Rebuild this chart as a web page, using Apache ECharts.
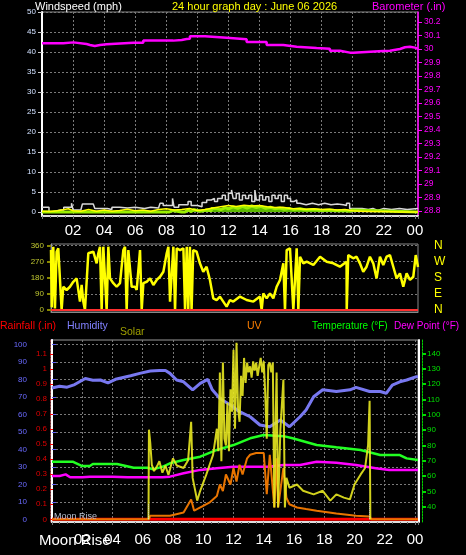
<!DOCTYPE html>
<html><head><meta charset="utf-8">
<script src="https://cdn.jsdelivr.net/npm/echarts@6/dist/echarts.min.js"></script>
<style>html,body{margin:0;padding:0;background:#000;}#c{width:466px;height:555px;}</style>
</head><body><div id="c"></div>
<script>
// ---------- tick labels ----------
const windTicks = [0,5,10,15,20,25,30,35,40,45,50];
const baroTicks = [28.8,28.9,29,29.1,29.2,29.3,29.4,29.5,29.6,29.7,29.8,29.9,30,30.1,30.2];
const dirTicks = [0,90,180,270,360];
const dirNames = ['N','E','S','W','N'];
const humTicks = [0,10,20,30,40,50,60,70,80,90,100];
const rainTicks = [0,0.1,0.2,0.3,0.4,0.5,0.6,0.7,0.8,0.9,1,1.1,1.2];
const tempTicks = [40,50,60,70,80,90,100,110,120,130,140];
const sunTimes = [6.35, 21.0];

// ---------- data: [hour, value] ----------
const windGust = [[0,1.2],[0.3,1.2],[0.45,0],[0.6,0.5],[1.2,0.5],[1.4,1.2],[1.9,2.2],[2.0,0.5],[2.5,0.5],[2.6,2.0],[3.3,2.0],[3.4,0.9],[4.0,0.9],[4.2,0.6],[4.5,1.2],[5.0,1.0],[5.5,1.2],[6.0,0.9],[6.6,1.2],[7.0,1.0],[7.5,1.2],[7.6,2.2],[7.8,1.6],[8.2,1.6],[8.4,3.4],[8.5,1.2],[8.8,1.8],[9.2,1.8],[9.4,2.6],[9.6,1.6],[10.0,1.3],[10.3,2.4],[10.6,3.0],[10.9,3.4],[11.1,2.6],[11.3,3.4],[11.6,4.2],[11.8,3.0],[12.0,4.7],[12.2,5.5],[12.3,3.4],[12.5,4.6],[12.7,3.0],[12.9,4.2],[13.1,3.4],[13.3,4.2],[13.5,2.6],[13.7,5.5],[13.8,3.0],[14.0,4.2],[14.2,3.0],[14.4,3.8],[14.6,2.6],[14.8,4.2],[15.0,3.4],[15.2,4.2],[15.4,2.6],[15.6,4.2],[15.8,3.4],[16.0,2.6],[16.2,3.0],[16.4,2.2],[16.6,1.8],[17.0,2.2],[17.4,1.8],[17.8,2.2],[18.2,1.8],[18.6,2.0],[19.0,1.8],[19.4,1.6],[19.6,2.2],[19.8,0.9],[20.2,0.9],[20.6,0.6],[21.0,0.9],[21.3,0.4],[21.6,0.9],[22.0,0.6],[22.5,0.9],[23.0,0.6],[23.5,0.9],[24.2,0.9]];
const windLow = [[0,0],[8.0,0],[8.2,0.4],[8.4,0],[9.0,0],[9.2,0.5],[9.4,0.1],[9.6,0.6],[9.8,0.2],[10.2,0.5],[10.6,0.3],[10.9,0.9],[11.2,0.6],[11.5,1.1],[11.8,0.8],[12.0,1.3],[12.3,0.9],[12.6,1.4],[12.9,1.0],[13.2,1.5],[13.5,1.1],[13.8,1.4],[14.1,0.9],[14.4,1.2],[14.7,0.8],[15.0,1.0],[15.3,0.7],[15.6,0.9],[15.9,0.6],[16.2,0.8],[16.6,0.5],[17.0,0.6],[17.5,0.4],[18.0,0.5],[18.5,0.3],[19.0,0.4],[19.5,0.2],[19.8,0.5],[20.0,0],[24.2,0]];
const windAvg = [[0,0.2],[0.5,0.1],[1,0.3],[1.7,0.8],[2.0,0.3],[2.5,0.2],[3,0.6],[3.5,0.2],[4,0.5],[4.5,0.2],[5,0.4],[5.5,0.7],[6,0.3],[6.5,0.5],[7,0.2],[7.5,0.6],[8,0.8],[8.5,0.5],[9,0.6],[9.5,0.9],[10,0.4],[10.5,0.6],[11,1.0],[11.5,1.3],[12,1.6],[12.5,1.4],[13,1.7],[13.5,1.5],[14,1.6],[14.5,1.3],[15,1.1],[15.5,1.2],[16,0.9],[16.5,0.8],[17,0.7],[17.5,0.8],[18,0.6],[18.5,0.7],[19,0.5],[19.5,0.6],[20,0.3],[20.5,0.2],[21,0.1],[22,0.1],[23,0.0],[24.2,0]];
const baro = [[0,30.042],[0.2,30.042],[1.37,30.049],[2.02,30.037],[2.87,30.030],[3.09,30.022],[3.4,30.03],[3.73,30.035],[4.16,30.047],[5.88,30.047],[6.52,30.062],[8.45,30.067],[8.99,30.074],[9.31,30.076],[9.52,30.094],[10.49,30.094],[10.6,30.084],[11.88,30.072],[13.17,30.052],[14.46,30.030],[15.53,30.017],[16.39,30.007],[17.67,30.002],[18.53,29.987],[19.18,29.973],[19.82,29.973],[20.03,29.985],[21.96,29.987],[22.39,30.0],[23.04,30.013],[23.36,30.017],[23.68,30.01],[24.0,30.002],[24.2,30.002]];
const windDir = [[0.0,335],[0.05,15],[0.15,354],[0.26,9],[0.37,326],[0.48,345],[0.59,354],[0.70,0],[0.81,130],[1.03,112],[1.25,130],[1.47,158],[1.69,177],[1.91,47],[2.02,140],[2.13,47],[2.24,0],[2.35,0],[2.46,317],[2.79,326],[3.01,261],[3.12,317],[3.23,354],[3.34,0],[3.45,354],[3.56,345],[3.67,0],[3.78,354],[3.89,177],[4.11,150],[4.33,130],[4.55,150],[4.77,335],[4.88,354],[4.99,0],[5.10,335],[5.32,130],[5.54,130],[5.65,112],[5.87,335],[5.98,0],[6.09,150],[6.31,158],[6.53,177],[6.75,140],[6.97,168],[7.19,186],[7.41,214],[7.63,317],[7.74,354],[7.85,47],[8.07,354],[8.18,0],[8.29,345],[8.51,335],[8.73,345],[8.84,0],[8.95,354],[9.05,0],[9.16,354],[9.27,0],[9.38,335],[9.60,326],[9.82,261],[10.04,214],[10.26,242],[10.48,168],[10.70,65],[10.92,56],[11.14,75],[11.36,47],[11.58,19],[11.80,56],[12.02,47],[12.46,75],[12.90,56],[13.34,47],[13.78,75],[13.89,0],[14.0,93],[14.22,65],[14.44,93],[14.66,65],[14.88,130],[15.10,168],[15.32,261],[15.43,0],[15.54,335],[15.76,345],[15.98,0],[16.2,345],[16.31,0],[16.42,298],[16.64,261],[16.86,270],[17.3,252],[17.74,298],[18.18,270],[18.62,261],[19.05,242],[19.49,270],[19.5,0],[19.6,307],[19.93,289],[20.15,298],[20.37,261],[20.59,214],[20.81,242],[21.03,298],[21.25,261],[21.47,177],[21.69,298],[21.91,252],[22.13,298],[22.35,307],[22.57,242],[22.79,177],[23.01,205],[23.23,130],[23.45,205],[23.67,168],[23.89,186],[24.05,307],[24.2,240]];
const rainfall = [[0,0],[24.2,0]];
const humidity = [[0,75],[0.5,76],[1.0,75.5],[1.5,77],[2.2,80.5],[2.7,79.5],[3.2,79.6],[3.7,78],[4.2,80],[4.7,81],[5.2,82],[5.8,83.4],[6.5,84.7],[7.1,85],[7.5,85],[7.8,83.4],[8.24,79.6],[8.7,78.6],[9.3,74],[9.8,77.7],[10.3,80],[10.6,74],[11.1,69],[11.8,65.3],[12.4,61.5],[13.1,58.6],[13.75,53.9],[14.4,52.9],[15.1,56.7],[15.7,52.9],[16.4,58.6],[16.8,62.5],[17.3,70],[17.9,74],[18.8,73],[19.7,74],[20.1,75.4],[21.0,73],[21.7,73],[22.1,72],[22.5,76.7],[23.0,78.6],[23.45,79.6],[24.1,81.5],[24.2,81.5]];
const temperature = [[0,69.3],[1.4,69.3],[2.0,66.5],[2.5,66.5],[2.7,67.8],[4.3,67.8],[5.4,65.4],[6.3,65.4],[6.7,64.4],[7.1,65.5],[7.3,66],[7.8,68.3],[8.7,70.4],[9.8,72.6],[10.9,77],[12.0,80.2],[13.1,84.6],[14.0,86.7],[15.3,86],[15.9,84.6],[17.5,80.2],[18.8,78.7],[20.4,77],[21.7,73.7],[23.0,73.7],[23.45,71.5],[24.2,70.4]];
const dewPoint = [[0,60],[0.5,60],[0.9,61.1],[1.2,59.2],[2.0,59.2],[2.5,59.6],[4.0,59.6],[5.0,59.2],[7.3,59.2],[7.8,59.6],[8.7,61.8],[9.8,64],[10.9,65],[12.0,66],[13.1,66],[14.3,66],[15.3,67.2],[16.4,67.2],[17.5,69.3],[18.8,68.7],[20.1,67.2],[21.4,65],[22.3,64],[24.2,64]];
const uv = [[0,0],[6.4,0],[6.5,0.2],[7.8,0.2],[8.7,0.38],[9.2,1.1],[9.4,0.48],[10.0,0.75],[10.4,0.93],[10.9,1.3],[11.1,1.94],[11.3,1.58],[11.5,2.5],[11.8,1.94],[12.0,2.86],[12.2,2.1],[12.4,3.04],[12.6,2.5],[12.9,3.4],[13.1,3.6],[13.5,3.7],[14.0,3.7],[14.2,1.4],[14.4,3.6],[14.7,0.66],[14.85,3.4],[14.95,0.66],[15.3,2.86],[15.5,1.2],[15.7,0.84],[16.2,0.66],[16.8,0.57],[17.5,0.48],[18.8,0.33],[20.1,0.2],[21.0,0.15],[21.1,0],[24.2,0]];
const solar = [[6.38,0],[6.41,500],[6.5,423],[6.6,304],[6.75,269],[6.95,297],[7.1,324],[7.3,260],[7.5,300],[7.7,247],[8.0,340],[8.25,300],[8.7,286],[9.0,330],[9.2,544],[9.3,231],[9.6,104],[9.8,159],[10.2,249],[10.65,359],[10.9,505],[11.0,380],[11.1,819],[11.2,324],[11.3,874],[11.4,450],[11.5,412],[11.6,650],[11.7,380],[11.8,725],[11.9,600],[12.0,945],[12.1,505],[12.2,984],[12.3,620],[12.4,544],[12.5,800],[12.6,688],[12.7,900],[12.8,760],[12.9,874],[13.0,820],[13.1,853],[13.2,790],[13.3,881],[13.4,830],[13.5,874],[13.6,800],[13.7,853],[13.8,900],[13.9,820],[14.0,881],[14.1,700],[14.2,450],[14.3,860],[14.4,874],[14.5,820],[14.6,874],[14.7,66],[14.8,600],[14.85,819],[14.95,66],[15.1,500],[15.3,780],[15.4,66],[15.5,231],[15.7,176],[16.2,194],[16.6,159],[17.3,139],[17.9,159],[18.4,104],[18.8,139],[19.3,121],[19.7,111],[20.0,194],[20.4,249],[20.7,286],[20.9,414],[21.0,661],[21.05,0]];

// ---------- chart ----------
const FONT = 'Liberation Sans';
const pad = h => (h < 10 ? '0' : '') + h;
const hourFmt = v => {
  const r = Math.round(v);
  return (r > 0 && Math.abs(v - r) < 1e-6 && r % 2 === 0) ? pad(r % 24) : '';
};
const dotted = {color: '#7a7a7a', type: [2, 2], width: 1};

function xAxis(gi, showLabels, margin, split) {
  return {
    type: 'value', gridIndex: gi, min: 0, max: 24.2, interval: 2,
    axisLine: {show: true, onZero: false, lineStyle: {color: gi === 1 ? '#888' : '#ddd', width: gi === 1 ? 1 : 2}},
    axisTick: {show: gi !== 1, length: 3, lineStyle: {color: '#777'}},
    minorTick: {show: gi !== 1, splitNumber: 4, length: 2, lineStyle: {color: '#666'}},
    axisLabel: {show: showLabels, formatter: hourFmt, color: '#fff', fontSize: 15, fontFamily: FONT, margin: margin},
    splitLine: {show: split, lineStyle: dotted}
  };
}

const chart = echarts.init(document.getElementById('c'), null, {renderer: 'canvas'});
chart.setOption({
  backgroundColor: '#000',
  animation: false,
  grid: [
    {left: 42, right: 48, top: 12, height: 204, show: true, borderColor: '#888', borderWidth: 1},
    {left: 51, right: 48, top: 244, height: 68, show: true, borderColor: '#888', borderWidth: 1},
    {left: 52, right: 48, top: 340, height: 182, show: true, borderColor: '#999', borderWidth: 1}
  ],
  xAxis: [xAxis(0, true, 7, true), xAxis(1, false, 0, false), xAxis(2, true, 10, true)],
  yAxis: [
    { // 0 wind speed
      type: 'value', gridIndex: 0, min: -1, max: 50, position: 'left',
      axisLine: {show: true, lineStyle: {color: '#fff', width: 2}},
      axisTick: {show: true, customValues: windTicks, length: 4, lineStyle: {color: '#ccc'}},
      axisLabel: {customValues: windTicks, color: '#d0e0ff', fontSize: 8, fontFamily: FONT, margin: 6},
      splitLine: {show: true, lineStyle: dotted}
    },
    { // 1 barometer
      type: 'value', gridIndex: 0, min: 28.763, max: 30.274, position: 'right',
      axisLine: {show: true, lineStyle: {color: '#ff00ff', width: 1.5}},
      axisTick: {show: true, customValues: baroTicks, length: 4, lineStyle: {color: '#ff00ff'}},
      axisLabel: {customValues: baroTicks, color: '#ff00ff', fontSize: 8.5, fontFamily: FONT, margin: 6,
        formatter: v => String(+v.toFixed(2))},
      splitLine: {show: false}
    },
    { // 2 wind direction
      type: 'value', gridIndex: 1, min: -11, max: 369, position: 'left',
      axisLine: {show: true, lineStyle: {color: '#999', width: 1}},
      axisTick: {show: true, customValues: dirTicks, length: 4, lineStyle: {color: '#888800', width: 2}},
      axisLabel: {customValues: dirTicks, color: '#c0c830', fontSize: 8, fontFamily: FONT, margin: 7},
      splitLine: {show: true, lineStyle: dotted}
    },
    { // 3 compass letters
      type: 'value', gridIndex: 1, min: -11, max: 369, position: 'right', offset: 14,
      axisLine: {show: false}, axisTick: {show: false}, splitLine: {show: false},
      axisLabel: {customValues: dirTicks, color: '#ffff00', fontSize: 12, fontFamily: FONT, margin: 2,
        padding: [6, 0, 0, 0], formatter: v => dirNames[dirTicks.indexOf(Math.round(v))] || ''}
    },
    { // 4 humidity
      type: 'value', gridIndex: 2, min: -1.54, max: 102.46, position: 'left', offset: 22,
      axisLine: {show: true, lineStyle: {color: '#6060f0', width: 2}},
      axisTick: {show: true, inside: true, customValues: humTicks, length: 4, lineStyle: {color: '#6060f0'}},
      axisLabel: {customValues: humTicks, color: '#6a6aff', fontSize: 8, fontFamily: FONT, margin: 3},
      splitLine: {show: true, lineStyle: dotted}
    },
    { // 5 rainfall
      type: 'value', gridIndex: 2, min: -0.018, max: 1.195, position: 'left', offset: 2,
      axisLine: {show: true, lineStyle: {color: '#884444', width: 1, type: [2, 1]}},
      axisTick: {show: true, inside: true, customValues: rainTicks, length: 3, lineStyle: {color: '#ff0000'}},
      axisLabel: {customValues: rainTicks, color: '#e00000', fontSize: 8, fontFamily: FONT, margin: 3,
        formatter: v => String(+v.toFixed(2))},
      splitLine: {show: false}
    },
    { // 6 temperature
      type: 'value', gridIndex: 2, min: 30.03, max: 148.67, position: 'right', offset: 4,
      axisLine: {show: true, lineStyle: {color: '#00cc00', width: 1, type: [2, 1]}},
      axisTick: {show: true, customValues: tempTicks, length: 4, lineStyle: {color: '#00dd00', width: 2}},
      axisLabel: {customValues: tempTicks, color: '#00e000', fontSize: 8, fontFamily: FONT, margin: 5},
      splitLine: {show: false}
    },
    { // 7 solar (hidden scale)
      type: 'value', gridIndex: 2, min: -15, max: 1000, position: 'left', offset: 0,
      axisLine: {show: true, lineStyle: {color: '#fff', width: 2}},
      axisTick: {show: false}, axisLabel: {show: false}, splitLine: {show: false}
    },
    { // 8 UV (hidden scale)
      type: 'value', gridIndex: 2, min: -0.15, max: 10, position: 'right', offset: 1,
      axisLine: {show: true, lineStyle: {color: '#fff', width: 2}},
      axisTick: {show: false}, axisLabel: {show: false}, splitLine: {show: false}
    }
  ],
  graphic: [
    {type: 'text', left: 35, top: 1, style: {text: 'Windspeed (mph)', fill: '#fff', font: '11px ' + FONT}},
    {type: 'text', left: 172, top: 1, style: {text: '24 hour graph day : June 06 2026', fill: '#ffff00', font: '11px ' + FONT}},
    {type: 'text', left: 372, top: 1, style: {text: 'Barometer (.in)', fill: '#ff00ff', font: '11px ' + FONT}},
    {type: 'text', left: 0, top: 321, style: {text: 'Rainfall (.in)', fill: '#ff0000', font: '10.5px ' + FONT}},
    {type: 'text', left: 67, top: 321, style: {text: 'Humidity', fill: '#8080ff', font: '10.5px ' + FONT}},
    {type: 'text', left: 120, top: 327, style: {text: 'Solar', fill: '#a0a000', font: '10.5px ' + FONT}},
    {type: 'text', left: 247, top: 321, style: {text: 'UV', fill: '#ff8000', font: '10.5px ' + FONT}},
    {type: 'text', left: 312, top: 321, style: {text: 'Temperature (°F)', fill: '#00ff00', font: '10px ' + FONT}},
    {type: 'text', left: 394, top: 321, style: {text: 'Dew Point (°F)', fill: '#ff00ff', font: '10px ' + FONT}},
    {type: 'text', left: 54, top: 512, z: 20, style: {text: 'Moon Rise', fill: '#b8c0d0', font: '9px ' + FONT}},
    {type: 'text', left: 39, top: 533, z: 20, style: {text: 'Moon Rise', fill: '#fff', font: '15px ' + FONT}}
  ],
  series: [
    {type: 'line', name: 'Gust', xAxisIndex: 0, yAxisIndex: 0, data: windGust, step: 'end', showSymbol: false,
      lineStyle: {color: '#d8d8d8', width: 1.5}},
    {type: 'line', name: 'Low', xAxisIndex: 0, yAxisIndex: 0, data: windLow, step: 'end', showSymbol: false,
      lineStyle: {color: '#99ee00', width: 3}, areaStyle: {color: '#66cc00', opacity: 0.9}},
    {type: 'line', name: 'Average', xAxisIndex: 0, yAxisIndex: 0, data: windAvg, showSymbol: false,
      lineStyle: {color: '#ffff00', width: 1.5}},
    {type: 'line', name: 'Barometer', xAxisIndex: 0, yAxisIndex: 1, data: baro, step: 'end', showSymbol: false,
      lineStyle: {color: '#ff00ff', width: 2.5}},
    {type: 'line', name: 'Direction', xAxisIndex: 1, yAxisIndex: 2, data: windDir, showSymbol: false,
      lineStyle: {color: '#ffff00', width: 2.5},
      markLine: {silent: true, symbol: 'none', label: {show: false},
        lineStyle: {color: '#ff3030', width: 2, type: 'solid'}, data: [{yAxis: 0}]}},
    {type: 'line', name: 'Rainfall', xAxisIndex: 2, yAxisIndex: 5, data: rainfall, showSymbol: false,
      lineStyle: {color: '#ff0000', width: 3},
      markLine: {silent: true, symbol: 'none', label: {show: false},
        lineStyle: {color: '#ddd', width: 1, type: [1, 1]},
        data: sunTimes.map(t => [{coord: [t, 0]}, {coord: [t, 0.1]}])}},
    {type: 'line', name: 'Humidity', xAxisIndex: 2, yAxisIndex: 4, data: humidity, showSymbol: false,
      lineStyle: {color: '#7878f0', width: 3}},
    {type: 'line', name: 'Temperature', xAxisIndex: 2, yAxisIndex: 6, data: temperature, showSymbol: false,
      lineStyle: {color: '#22ff22', width: 2.5}},
    {type: 'line', name: 'Dew Point', xAxisIndex: 2, yAxisIndex: 6, data: dewPoint, showSymbol: false,
      lineStyle: {color: '#ff00ff', width: 2.5}},
    {type: 'line', name: 'UV', xAxisIndex: 2, yAxisIndex: 8, data: uv, showSymbol: false,
      lineStyle: {color: '#e87400', width: 2}},
    {type: 'line', name: 'Solar', xAxisIndex: 2, yAxisIndex: 7, data: solar, showSymbol: false,
      lineStyle: {color: '#e8e820', width: 2, opacity: 0.9}}
  ]
});
</script></body></html>
